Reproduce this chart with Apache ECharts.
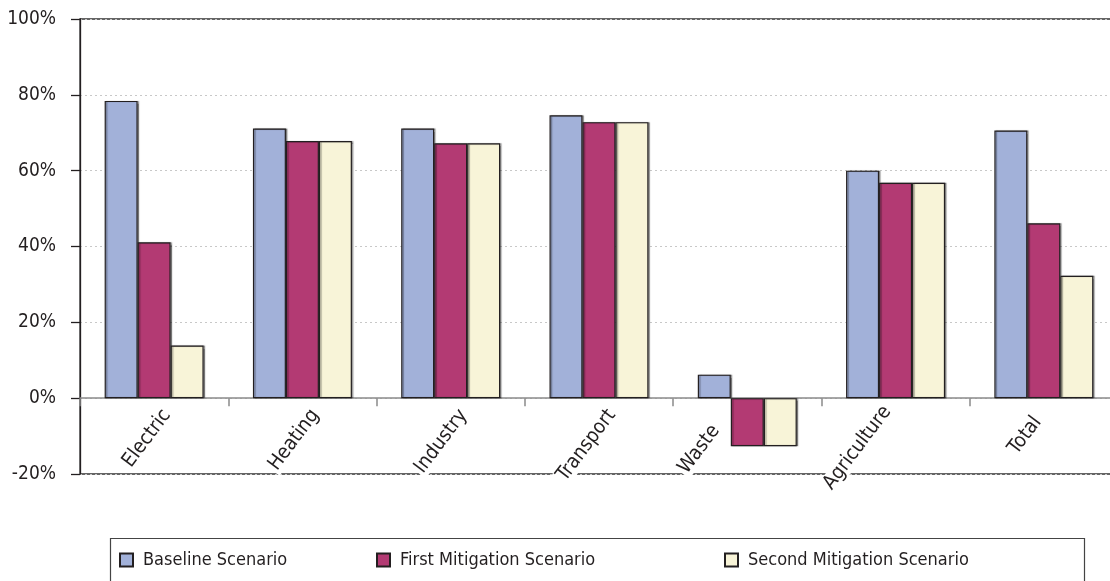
<!DOCTYPE html>
<html>
<head>
<meta charset="utf-8">
<script src="https://cdn.jsdelivr.net/npm/echarts@6/dist/echarts.min.js"></script>
<style>
  html, body { margin: 0; padding: 0; background: #fff; }
  #chart { width: 1110px; height: 581px; }
</style>
</head>
<body>
<div id="chart"></div>
<script>
// Emission reduction by sector under three scenarios (percent)
const categories = ['Electric', 'Heating', 'Industry', 'Transport', 'Waste', 'Agriculture', 'Total'];
const seriesNames = ['Baseline Scenario', 'First Mitigation Scenario', 'Second Mitigation Scenario'];
const baseline = [78.4, 71.1, 71.1, 74.6, 6.2, 60.0, 70.6];
const firstMitigation = [41.1, 67.8, 67.2, 72.8, -12.7, 56.8, 46.1];
const secondMitigation = [13.9, 67.8, 67.2, 72.8, -12.7, 56.8, 32.3];
const yTicks = { min: -20, max: 100, interval: 20 };

const FONT = "'DejaVu Sans Condensed', 'Liberation Sans Narrow', 'Noto Sans', sans-serif";
const INK = '#231f20';
const colors = ['#a2b1d9', '#b33a73', '#f8f4d8'];

const values = [baseline, firstMitigation, secondMitigation];

// plot frame geometry
const GRID_TOP = 19;
const GRID_BOTTOM = 107;
const CHART_H = 581;

const chart = echarts.init(document.getElementById('chart'), null, { renderer: 'canvas' });

// Category labels hang just under the zero line rather than under the frame:
// shift them up by the distance from the frame bottom to the zero line.
const plotH = CHART_H - GRID_TOP - GRID_BOTTOM;
const zeroToBottom = plotH * (0 - yTicks.min) / (yTicks.max - yTicks.min);
const labelMargin = 1.5 - zeroToBottom;

// a few labels are nudged aside so they clear the bars below the zero line
const labelNudges = {
  Waste:       { verticalAlign: 'middle', padding: [0, 39, 17, 0] },
  Agriculture: { verticalAlign: 'middle', padding: [0, 10, 3, 0] },
  Total:       { verticalAlign: 'middle', padding: [13, 17, 0, 0] }
};
const categoryItems = categories.map(c =>
  labelNudges[c] ? { value: c, textStyle: labelNudges[c] } : c
);

const series = seriesNames.map((name, i) => ({
  name: name,
  type: 'bar',
  data: values[i],
  barWidth: 33,
  barGap: '0%',
  itemStyle: {
    color: colors[i],
    borderColor: INK,
    borderWidth: 1.2,
    shadowColor: 'rgba(0,0,0,0.35)',
    shadowBlur: 1,
    shadowOffsetX: 1.5,
    shadowOffsetY: 0
  },
  emphasis: { disabled: true }
}));

// One legend per entry so each sits at its own spot in the framed legend box
const legendLefts = [119, 376, 724];
const legends = seriesNames.map((name, i) => ({
  data: [name],
  left: legendLefts[i],
  top: 551,
  padding: 0,
  itemWidth: 13,
  itemHeight: 13,
  icon: 'rect',
  selectedMode: false,
  textStyle: {
    fontFamily: FONT,
    fontSize: 18,
    color: INK,
    padding: [0, 0, 0, 5]
  }
}));

chart.setOption({
  animation: false,
  backgroundColor: '#fff',
  color: colors,
  grid: {
    left: 80,
    right: -8,
    top: GRID_TOP,
    bottom: GRID_BOTTOM,
    show: true,
    borderColor: '#333',
    borderWidth: 1.3,
    backgroundColor: 'transparent',
    containLabel: false,
    outerBoundsMode: 'none'
  },
  legend: legends,
  graphic: [{
    type: 'rect',
    left: 108,
    top: 536,
    shape: { width: 974, height: 60 },
    style: { fill: 'none', stroke: '#444', lineWidth: 1.2 },
    silent: true
  }],
  xAxis: {
    type: 'category',
    data: categoryItems,
    axisLine: { onZero: true, lineStyle: { color: '#8a8a8a', width: 1.5 } },
    axisTick: { show: true, length: 8, lineStyle: { color: '#8a8a8a', width: 1.5 } },
    axisLabel: {
      rotate: 53,
      margin: labelMargin,
      verticalAlign: 'top',
      padding: [7.5, 0, 0, 0],
      fontFamily: FONT,
      fontSize: 20,
      color: INK,
      interval: 0,
      formatter: v => '{t|' + v + '}',
      rich: {
        t: {
          fontFamily: FONT,
          fontSize: 20,
          lineHeight: 20,
          color: INK,
          backgroundColor: '#fff',
          padding: [0, 2, 0, 2]
        }
      }
    },
    splitLine: { show: false }
  },
  yAxis: {
    type: 'value',
    min: yTicks.min,
    max: yTicks.max,
    interval: yTicks.interval,
    axisLine: { show: true, lineStyle: { color: INK, width: 1.3 } },
    axisTick: { show: true, length: 9, lineStyle: { color: INK, width: 1.3 } },
    axisLabel: {
      formatter: '{value}%',
      margin: 24,
      fontFamily: FONT,
      fontSize: 19,
      color: INK
    },
    splitLine: { show: true, lineStyle: { color: '#c8c8c8', type: [2, 3], width: 1 } }
  },
  series: series
});
</script>
</body>
</html>
